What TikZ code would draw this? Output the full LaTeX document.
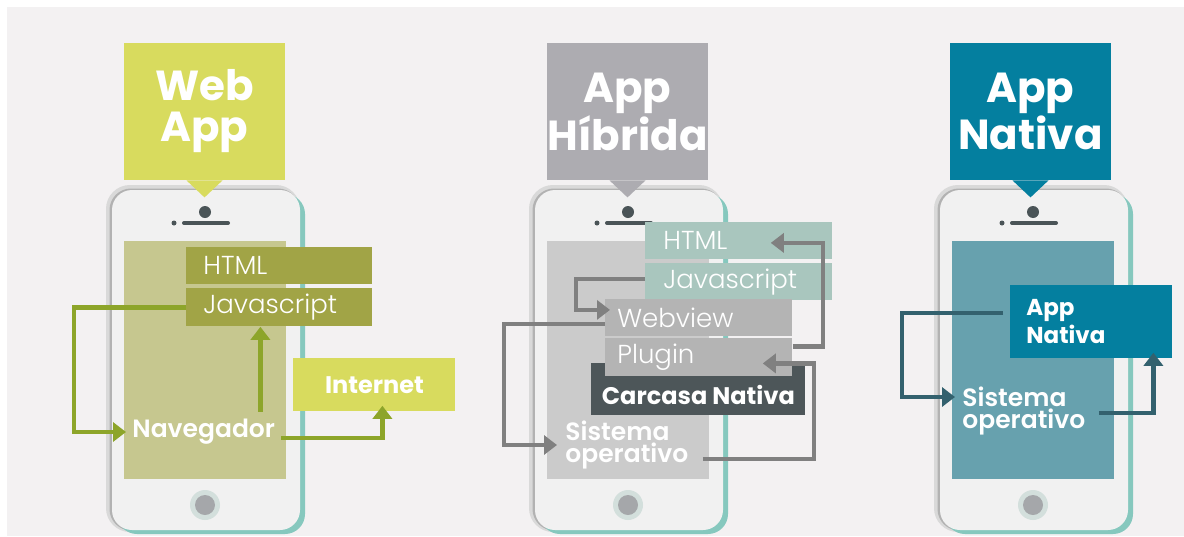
\documentclass[tikz,border=0pt]{standalone}
\usepackage{fontspec}
\setmainfont{Poppins}
\newfontfamily\lightfont{Poppins Light}
\newfontfamily\semifont{Poppins SemiBold}
\usetikzlibrary{arrows.meta,calc}

\definecolor{bgcol}{HTML}{F3F1F2}
\definecolor{phonebody}{HTML}{F1F1F1}
\definecolor{phoneedge}{HTML}{86C8BE}
\definecolor{camcol}{HTML}{4A5457}
\definecolor{homeout}{HTML}{D3DFDC}
\definecolor{homein}{HTML}{A5A7AA}
% web app
\definecolor{webtitle}{HTML}{D8DB5E}
\definecolor{webscreen}{HTML}{C6C78F}
\definecolor{webbox}{HTML}{A1A446}
\definecolor{webarrow}{HTML}{8DA52A}
% hybrid app
\definecolor{hybtitle}{HTML}{ADACB1}
\definecolor{hybscreen}{HTML}{CBCBCB}
\definecolor{hybtag}{HTML}{A9C6BE}
\definecolor{hybgray}{HTML}{B4B4B4}
\definecolor{shellcol}{HTML}{4D5659}
\definecolor{hybarrow}{HTML}{808080}
% native app
\definecolor{nattitle}{HTML}{047F9F}
\definecolor{natscreen}{HTML}{67A1AE}
\definecolor{natarrow}{HTML}{33616E}

\begin{document}
\begin{tikzpicture}[x=0.5pt, y=-0.5pt,
        title/.style={minimum width=80.5pt, minimum height=68.5pt, inner sep=0pt,
                text=white, align=center, font=\bfseries\fontsize{21}{20.5}\selectfont},
        tag/.style={anchor=north west, inner ysep=0pt, align=left, text=white,
                font=\lightfont\fontsize{13}{14}\selectfont},
        strong/.style={anchor=north west, inner sep=0pt, text=white,
                font=\bfseries\fontsize{12}{14}\selectfont},
        oslabel/.style={anchor=west, inner sep=0pt, align=left, text=white,
                font=\semifont\fontsize{12.5}{11}\selectfont},
        flow/.style={line width=2.2pt, -{Triangle[width=9.5pt,length=6.5pt]}}]

    \useasboundingbox (0,0) rectangle (1184,536);
    \fill[white] (0,0) rectangle (1184,536);
    \fill[bgcol] (7,7) rectangle (1184,536);

    % the three phones
    \foreach \x/\scr in {112/webscreen, 535/hybscreen, 940/natscreen} {
            \begin{scope}[shift={(\x,0)}]
                \draw[black!15, line width=4pt, rounded corners=10pt] (-2,189) rectangle (184,528);
                \draw[black!30, line width=1.5pt, rounded corners=10pt] (-1,190) rectangle (186,529);
                \fill[phoneedge, rounded corners=10pt] (5,194) rectangle (193,534);
                \fill[phonebody, rounded corners=10pt] (0,190) rectangle (188,530);
                \fill[\scr] (12,241) rectangle (174,479);

                \fill[camcol] (93,212) circle (6);
                \fill[camcol] (62,223) circle (2.5);
                \draw[camcol, line width=2pt, line cap=round] (72,223) -- (116,223);

                \fill[homeout] (93,505) circle (15);
                \fill[homein] (93,505) circle (10);
            \end{scope}
        }

    % headings
    \node[title, fill=webtitle] (webhead) at (204.5,111.5) {Web\\App};
    \node[title, fill=hybtitle] (hybhead) at (627.5,111.5) {App\\Híbrida};
    \node[title, fill=nattitle] (nathead) at (1030.5,111.5) {App\\Nativa};
    \fill[webtitle] ([xshift=-9pt]webhead.south) -- ([xshift=9pt]webhead.south) -- ([yshift=-8.5pt]webhead.south) -- cycle;
    \fill[hybtitle] ([xshift=-9pt]hybhead.south) -- ([xshift=9pt]hybhead.south) -- ([yshift=-8.5pt]hybhead.south) -- cycle;
    \fill[nattitle] ([xshift=-9pt]nathead.south) -- ([xshift=9pt]nathead.south) -- ([yshift=-8.5pt]nathead.south) -- cycle;

    % web app
    \node[tag, fill=webbox, minimum height=18.5pt, inner xsep=8.5pt, text width=76pt] (html) at (186,247) {HTML};
    \node[tag, fill=webbox, minimum height=19pt, inner xsep=8.5pt, text width=76pt] (js) at (186,288) {Javascript};
    \node[strong, fill=webtitle, minimum width=81pt, minimum height=26.5pt] (internet) at (293,358) {Internet};
    \node[oslabel, inner xsep=3pt, minimum height=20pt] (nav) at (126,432) {Navegador};

    \coordinate (jsup) at ($(js.south)+(-19,0)$);
    \draw[flow, webarrow] (js.west) -- ++(-112,0) |- (nav.west);
    \draw[flow, webarrow] (nav.north -| jsup) -- (jsup);
    \draw[flow, webarrow] ([yshift=-3pt]nav.east) -| ([xshift=4pt,yshift=3pt]internet.south);

    % hybrid app
    \node[tag, fill=hybtag, minimum height=18.5pt, inner xsep=9pt, text width=75.5pt] (hhtml) at (645,222) {HTML};
    \node[tag, fill=hybtag, minimum height=18.5pt, inner xsep=9pt, text width=75.5pt] (hjs) at (645,263) {Javascript};
    \node[strong, fill=shellcol, minimum width=107pt, minimum height=26pt] (shell) at (591,363)
        {\raisebox{-3pt}[\height][\depth]{Carcasa Nativa}};
    \node[tag, fill=hybgray, minimum height=19pt, inner xsep=6pt, text width=81.5pt] (plugin) at (605,338) {Plugin};
    \node[tag, fill=hybgray, minimum height=18.5pt, inner xsep=6pt, text width=81.5pt] (webview) at (605,299) {Webview};
    \node[oslabel] (hsis) at (565,445) {Sistema\\operativo};

    \draw[flow, hybarrow] ([yshift=5.5pt]plugin.east) -- ++(30,0) |- ([xshift=-31pt,yshift=-1pt]hhtml.east);
    \draw[flow, hybarrow] ([yshift=1.5pt]hjs.west) -- ++(-69,0) |- ([xshift=2.5pt,yshift=4pt]webview.west);
    \draw[flow, hybarrow] ([yshift=-3pt]webview.west) -- ++(-101,0) |- ([xshift=-4pt]hsis.west);
    \draw[flow, hybarrow] ([xshift=7pt,yshift=-7pt]hsis.east) -- ++(111,0) |- ([xshift=-15pt,yshift=-3pt]plugin.east);

    % native app
    \node[strong, fill=nattitle, minimum width=81pt, minimum height=36.5pt, inner xsep=8pt, text width=65pt,
        align=left, font=\bfseries\fontsize{11.5}{14}\selectfont] (napp) at (1010,285) {App\\Nativa};
    \node[oslabel] (nsis) at (962,411) {Sistema\\operativo};

    \draw[flow, natarrow] ([xshift=-3.5pt,yshift=4.5pt]napp.west) -- ++(-101,0) |- ([xshift=-3.5pt,yshift=7pt]nsis.west);
    \draw[flow, natarrow] ([xshift=6.5pt,yshift=-1pt]nsis.east) -| ([xshift=31pt,yshift=3pt]napp.south);
\end{tikzpicture}
\end{document}
